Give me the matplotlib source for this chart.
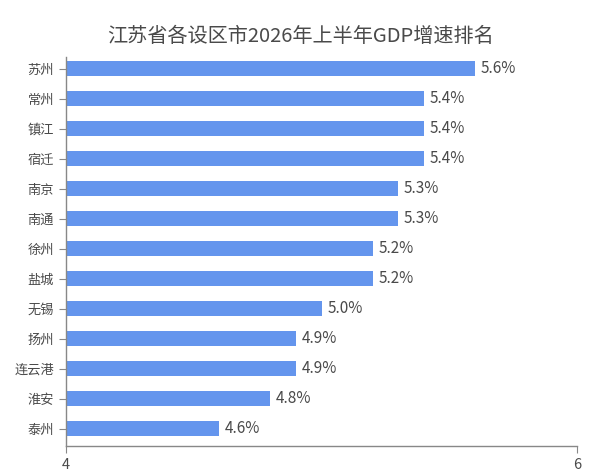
import matplotlib.pyplot as plt

plt.rcParams['font.family'] = ['Noto Sans CJK SC', 'DejaVu Sans']

cities = ['苏州', '常州', '镇江', '宿迁', '南京', '南通', '徐州', '盐城', '无锡', '扬州', '连云港', '淮安', '泰州']
growth = [5.6, 5.4, 5.4, 5.4, 5.3, 5.3, 5.2, 5.2, 5.0, 4.9, 4.9, 4.8, 4.6]
xticks = [4, 6]

bar_color = '#6495ED'
text_color = '#4a4a4a'
axis_color = '#888888'

fig = plt.figure(figsize=(6, 4.74), dpi=100)
ax = fig.add_axes([0.11, 0.059, 0.852, 0.821])

ypos = list(range(len(cities)))
ax.barh(ypos, [g - 4 for g in growth], left=4, height=0.5, color=bar_color)

for y, g in zip(ypos, growth):
    ax.text(g + 0.022, y, f'{g:.1f}%', va='center', ha='left', fontsize=11, color=text_color)

ax.set_xlim(4, 6)
ax.set_ylim(len(cities) - 0.43, -0.4)
ax.set_xticks(xticks)
ax.set_xticklabels([str(t) for t in xticks])
ax.set_yticks(ypos)
ax.set_yticklabels(cities)

for s in ['top', 'right']:
    ax.spines[s].set_visible(False)
for s in ['left', 'bottom']:
    ax.spines[s].set_color(axis_color)
    ax.spines[s].set_linewidth(1)
ax.tick_params(axis='both', colors=axis_color, labelcolor=text_color, length=5)
ax.tick_params(axis='y', labelsize=9.5)
ax.tick_params(axis='x', labelsize=10.5)

fig.suptitle('江苏省各设区市2026年上半年GDP增速排名', y=0.945, fontsize=14.5, color=text_color)

plt.savefig('out.png', dpi=100)
